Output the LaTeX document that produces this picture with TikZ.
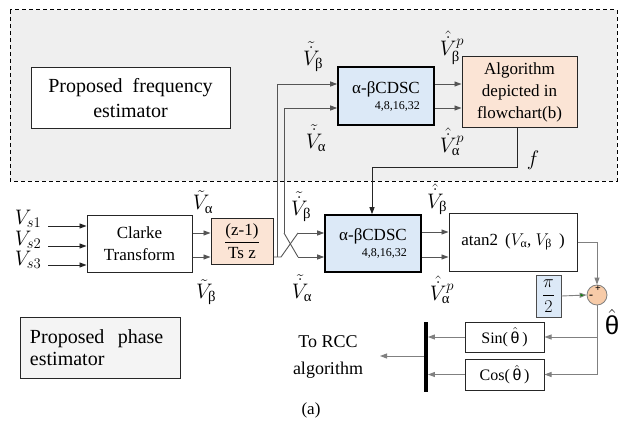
\documentclass[tikz,border=0pt]{standalone}
\usepackage{fix-cm}
\usepackage{fontspec}
\usepackage{amsmath}
\setmainfont{Liberation Serif}
\newfontfamily\sansf{Liberation Sans}
\usetikzlibrary{arrows.meta}
\definecolor{bgray}{HTML}{EFEFEF}
\definecolor{cdscblue}{HTML}{DCE9F7}
\definecolor{peach}{HTML}{FBE4D5}
\definecolor{sumpeach}{HTML}{F7CBA8}
\definecolor{wire}{HTML}{555555}
\newcommand{\thh}{\hat{\text{\sansf θ}}}
\begin{document}
\begin{tikzpicture}[x=1pt,y=-1pt,
 every node/.style={font=\fontsize{17}{22}\selectfont, inner sep=0pt},
 box/.style={draw=black!85, line width=1pt, fill=white, align=center},
 cdsc/.style={draw=black, line width=1.6pt, fill=cdscblue, align=right},
 sig/.style={draw=wire, line width=0.9pt},
 arr/.style={sig, -{Triangle[length=7pt,width=5pt]}},
 lbl/.style={font=\fontsize{21}{21}\selectfont},
]
\useasboundingbox (0,0) rectangle (622,428);
\fill[white] (0,0) rectangle (622,428);
\draw[line width=1pt, fill=bgray, dash pattern=on 4pt off 3pt] (10,10) rectangle (617,181);

% boxes
\node[box, minimum width=199pt, minimum height=61pt, font=\fontsize{20}{25}\selectfont] (freq) at (130.5,98.5) {Proposed\ \ frequency\\estimator};
\node[cdsc, minimum width=96pt, minimum height=58pt] (cdscU) at (386,96) {α-βCDSC\\[-6pt]{\fontsize{12}{12}\selectfont 4,8,16,32}};
\node[box, fill=peach, minimum width=115pt, minimum height=71pt] (algo) at (519.5,92.5) {Algorithm\\depicted in\\flowchart(b)};
\node[box, minimum width=105pt, minimum height=57pt] (clarke) at (139.5,243.5) {Clarke\\Transform};
\node[box, fill=peach, minimum width=62pt, minimum height=46pt] (diff) at (242,241) {$\dfrac{\text{(z-1)}}{\text{Ts z}}$};
\node[cdsc, minimum width=96pt, minimum height=57pt] (cdscL) at (373,243.5) {α-βCDSC\\[-6pt]{\fontsize{12}{12}\selectfont 4,8,16,32}};
\node[box, minimum width=128pt, minimum height=58pt] (atan) at (513,242) {atan2 \,($V_{\text{α}}$, $V_{\text{β}}$ \,)};
\node[box, draw=black!70, fill=cdscblue, minimum width=25pt, minimum height=42pt, font=\fontsize{18}{20}\selectfont] (pi) at (548.5,296) {$\dfrac{\pi}{2}$};
\node[circle, draw=gray, line width=0.8pt, fill=sumpeach, minimum size=20pt] (sum) at (597,295) {};
\node[font=\fontsize{10}{10}\selectfont\bfseries] at (598,289) {+};
\node[font=\fontsize{12}{12}\selectfont\bfseries] at (591,297) {-};
\node[box, minimum width=79pt, minimum height=30pt, font=\fontsize{16}{20}\selectfont] (sin) at (504.5,337) {Sin(\,$\thh$\,)};
\node[box, minimum width=79pt, minimum height=31pt, font=\fontsize{16}{20}\selectfont] (cos) at (504.5,374.5) {Cos(\,$\thh$\,)};
\node[box, fill=bgray!70, minimum width=160pt, minimum height=61pt, text width=140pt, align=left, font=\fontsize{20}{22}\selectfont] (phase) at (100,347.5) {Proposed\ \ phase\\estimator};
\node[fill=black, minimum width=3.5pt, minimum height=70pt] (bar) at (426,357) {};
\node[font=\fontsize{18}{27}\selectfont, align=center] (rcc) at (328,357) {To RCC\\algorithm};
\node (cap) at (311,410) {(a)};

% labels
\node[lbl] (l1) at (313,57) {$\tilde{\dot{V}}_{\text{β}}$};
\node[lbl] (l2) at (316,138) {$\tilde{\dot{V}}_{\text{α}}$};
\node[lbl] (l3) at (452,48) {$\hat{\dot{V}}^{p}_{\text{β}}$};
\node[lbl] (l4) at (452,142) {$\hat{\dot{V}}^{p}_{\text{α}}$};
\node[lbl] (l5) at (301,207) {$\tilde{\dot{V}}_{\text{β}}$};
\node[lbl] (l6) at (302,288) {$\tilde{\dot{V}}_{\text{α}}$};
\node[lbl] (l7) at (437,199) {$\hat{\dot{V}}_{\text{β}}$};
\node[lbl] (l8) at (442,290) {$\hat{\dot{V}}^{p}_{\text{α}}$};
\node[lbl] (l9) at (203,202) {$\tilde{V}_{\text{α}}$};
\node[lbl] (l10) at (206,292) {$\tilde{V}_{\text{β}}$};
\node[lbl] (lf) at (533,160) {$f$};
\node[lbl] (vs1) at (28,219) {$V_{s1}$};
\node[lbl] (vs2) at (28,240) {$V_{s2}$};
\node[lbl] (vs3) at (28,260) {$V_{s3}$};
\node[font=\fontsize{26}{26}\selectfont] (th) at (612,322) {$\thh$};

% inputs
\coordinate (i1) at (48,226);
\coordinate (i2) at (48,246);
\coordinate (i3) at (48,265);
\draw[arr, draw=black!85] (i1) -- (i1 -| clarke.west);
\draw[arr, draw=black!85] (i2) -- (i2 -| clarke.west);
\draw[arr, draw=black!85] (i3) -- (i3 -| clarke.west);

% clarke -> diff
\draw[arr] (clarke.east |- 0,233) -- (diff.west |- 0,233);
\draw[arr] (clarke.east |- 0,257) -- (diff.west |- 0,257);

% diff outputs, cross and branches
\coordinate (b1) at (277,257);
\coordinate (c1) at (281,257);
\coordinate (c2) at (298,233);
\coordinate (b2) at (284,233);
\coordinate (c3) at (298,257);
\draw[sig] (diff.east |- 0,257) -- (c1) -- (c2);
\draw[arr] (c2) -- (c2 -| cdscL.west);
\draw[sig] (b2) -- (c3);
\draw[arr] (c3) -- (c3 -| cdscL.west);
\draw[arr] (b1) -- (277,84) -- (cdscU.west |- 0,84);
\draw[arr] (b2) -- (284,108) -- (cdscU.west |- 0,108);

% upper cdsc -> algorithm
\draw[arr] (cdscU.east |- 0,84) -- (algo.west |- 0,84);
\draw[arr] (cdscU.east |- 0,108) -- (algo.west |- 0,108);

% f feedback
\draw[arr, draw=black!85] (algo.south -| 517,0) -- (517,167) -- (372,167) -- (cdscL.north -| 372,0);

% lower cdsc -> atan
\draw[arr] (cdscL.east |- 0,232) -- (atan.west |- 0,232);
\draw[arr] (cdscL.east |- 0,257) -- (atan.west |- 0,257);

% atan -> sum
\draw[arr, draw=gray] (atan.east) -| (sum.north);
\draw[sig, draw=gray, -{Triangle[length=7pt,width=5pt,fill=green!50!black]}] (pi.east) -- (sum.west);

% theta to sin/cos
\draw[sig, draw=gray] (sum.south) -- (sum.south |- cos.east);
\draw[arr, draw=gray] (sum.south |- sin.east) -- (sin.east);
\draw[arr, draw=gray] (sum.south |- cos.east) -- (cos.east);

% sin/cos -> bar
\draw[arr, draw=gray] (sin.west) -- (sin.west -| bar.east);
\draw[arr, draw=gray] (cos.west) -- (cos.west -| bar.east);

% output
\coordinate (out) at (380,356);
\draw[arr, draw=gray] (bar.west |- out) -- (out);
\end{tikzpicture}
\end{document}
